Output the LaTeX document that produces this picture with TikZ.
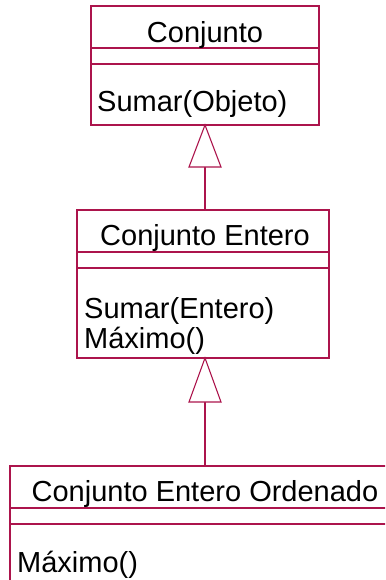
\documentclass[tikz,border=0pt]{standalone}
\usepackage{fontspec}
\setmainfont{Liberation Sans}
\definecolor{umlline}{RGB}{172,20,76}
\begin{document}
\begin{tikzpicture}[x=1pt,y=-1pt,
  umlbox/.style={draw=umlline,line width=1.1pt,rectangle,inner sep=0pt,outer sep=0pt,anchor=north west},
  sep/.style={draw=umlline,line width=1.1pt},
  lbl/.style={inner sep=0pt,font=\fontsize{29}{34}\selectfont,text=black},
  gen/.style={draw=umlline,line width=1.1pt,fill=white}]
\useasboundingbox (0,0) rectangle (385,580);
\clip (0,0) rectangle (385,580);
% Box 1
\node[umlbox,minimum width=228pt,minimum height=119pt] (c1) at (91,6) {};
\draw[sep] (91,48) -- (319,48);
\draw[sep] (91,64) -- (319,64);
\node[lbl,anchor=base] (t1) at (205,43) {Conjunto};
\node[lbl,anchor=base west] (m1) at (97,112) {Sumar(Objeto)};
% Box 2
\node[umlbox,minimum width=252pt,minimum height=148pt] (c2) at (77,210) {};
\draw[sep] (77,252) -- (329,252);
\draw[sep] (77,268) -- (329,268);
\node[lbl,anchor=base] (t2) at (205,245) {Conjunto Entero};
\node[lbl,anchor=base west] (m2a) at (84,318) {Sumar(Entero)};
\node[lbl,anchor=base west] (m2b) at (84,348) {Máximo()};
% Box 3
\node[umlbox,minimum width=390pt,minimum height=140pt] (c3) at (10,466) {};
\draw[sep] (10,508) -- (400,508);
\draw[sep] (10,524) -- (400,524);
\node[lbl,anchor=base] (t3) at (205,501) {Conjunto Entero Ordenado};
\node[lbl,anchor=base west] (m3) at (17,572) {Máximo()};
% Generalizations
\coordinate (a1) at (205,125);
\coordinate (b2) at (205,210);
\coordinate (a2) at (205,358);
\coordinate (b3) at (205,466);
\draw[gen] (b2) -- (205,167);
\draw[gen] (a1) -- (189,167) -- (221,167) -- cycle;
\draw[gen] (b3) -- (205,402);
\draw[gen] (a2) -- (189,402) -- (221,402) -- cycle;
\end{tikzpicture}
\end{document}
